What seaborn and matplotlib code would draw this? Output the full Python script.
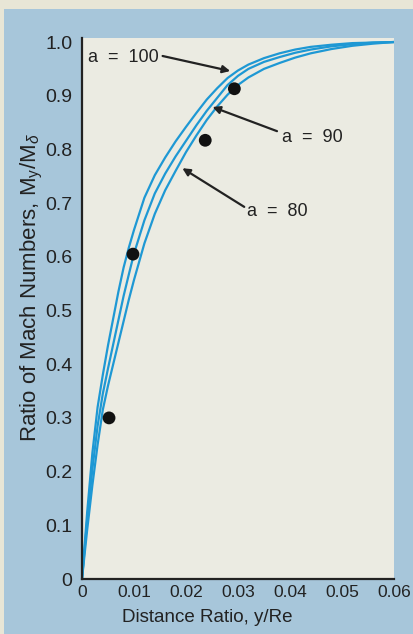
import matplotlib
matplotlib.use("Agg")
import matplotlib.pyplot as plt
from matplotlib.patches import Rectangle
import pandas as pd
import seaborn as sns

# Distance ratio y/Re at which each profile is sampled
dist_ratio = [0, 0.001, 0.002, 0.003, 0.004, 0.005, 0.006, 0.007, 0.008, 0.009, 0.010,
              0.012, 0.014, 0.016, 0.018, 0.020, 0.022, 0.024, 0.026, 0.028, 0.030,
              0.032, 0.035, 0.038, 0.041, 0.044, 0.048, 0.052, 0.056, 0.060]

# Mach-number ratio profiles for a = 100, 90, 80
mach_a100 = [0, 0.125, 0.235, 0.32, 0.38, 0.435, 0.485, 0.535, 0.58, 0.617, 0.65,
             0.71, 0.752, 0.785, 0.815, 0.842, 0.868, 0.893, 0.914, 0.933, 0.947,
             0.958, 0.970, 0.979, 0.986, 0.991, 0.995, 0.998, 0.999, 1.0]
mach_a90 = [0, 0.11, 0.205, 0.285, 0.345, 0.392, 0.437, 0.482, 0.527, 0.567, 0.606,
            0.668, 0.718, 0.755, 0.787, 0.816, 0.845, 0.872, 0.896, 0.920, 0.937,
            0.950, 0.963, 0.972, 0.980, 0.986, 0.992, 0.996, 0.999, 1.0]
mach_a80 = [0, 0.092, 0.175, 0.25, 0.315, 0.36, 0.40, 0.44, 0.48, 0.52, 0.557,
            0.625, 0.68, 0.724, 0.76, 0.795, 0.826, 0.855, 0.880, 0.902, 0.920,
            0.934, 0.950, 0.961, 0.971, 0.979, 0.987, 0.993, 0.997, 1.0]

# Measured points
meas_dist = [0.0052, 0.0098, 0.0237, 0.0293]
meas_mach = [0.30, 0.605, 0.817, 0.913]

x_ticks = [0, 0.01, 0.02, 0.03, 0.04, 0.05, 0.06]
x_tick_labels = ["0", "0.01", "0.02", "0.03", "0.04", "0.05", "0.06"]
y_ticks = [0, 0.1, 0.2, 0.3, 0.4, 0.5, 0.6, 0.7, 0.8, 0.9, 1.0]
y_tick_labels = ["0", "0.1", "0.2", "0.3", "0.4", "0.5", "0.6", "0.7", "0.8", "0.9", "1.0"]

profiles = pd.concat([
    pd.DataFrame({"dist": dist_ratio, "mach": mach_a100, "a": "100"}),
    pd.DataFrame({"dist": dist_ratio, "mach": mach_a90, "a": "90"}),
    pd.DataFrame({"dist": dist_ratio, "mach": mach_a80, "a": "80"}),
])
points = pd.DataFrame({"dist": meas_dist, "mach": meas_mach})

sns.set_style("white")
plt.rcParams["font.family"] = ["Liberation Sans", "DejaVu Sans"]
plt.rcParams["mathtext.fontset"] = "custom"
plt.rcParams["mathtext.rm"] = "Liberation Sans"
plt.rcParams["mathtext.it"] = "Liberation Sans:italic"

W, H = 414, 634
OUTER = "#E8E6D6"
PANEL = "#A7C6DA"
PLOT_BG = "#EBEBE2"
CURVE = "#1E98D4"
INK = "#222222"

fig = plt.figure(figsize=(W / 100, H / 100), dpi=100)
fig.patch.set_facecolor(OUTER)
fig.add_artist(Rectangle((4 / W, 0), 1, (H - 9) / H, transform=fig.transFigure,
                         facecolor=PANEL, edgecolor="none", zorder=0))

left_px, right_px, top_px, bottom_px = 82, 394, 38, 579
ax = fig.add_axes([left_px / W, (H - bottom_px) / H,
                   (right_px - left_px) / W, (bottom_px - top_px) / H])
ax.set_facecolor(PLOT_BG)

sns.lineplot(data=profiles, x="dist", y="mach", hue="a", units="a", estimator=None,
             palette={"100": CURVE, "90": CURVE, "80": CURVE}, linewidth=1.6,
             sort=False, legend=False, ax=ax)
sns.scatterplot(data=points, x="dist", y="mach", color="#111111", s=85,
                edgecolor="none", ax=ax, zorder=5)

ax.set_xlim(0, 0.06)
ax.set_ylim(0, 1.0075)
ax.set_xticks(x_ticks)
ax.set_xticklabels(x_tick_labels)
ax.set_yticks(y_ticks)
ax.set_yticklabels(y_tick_labels)
ax.tick_params(axis="both", direction="in", length=7, width=1.5, color=INK,
               labelcolor=INK)
ax.tick_params(axis="x", pad=4, labelsize=12.5)
ax.tick_params(axis="y", pad=7, labelsize=14)
ax.xaxis.get_major_ticks()[0].tick1line.set_visible(False)
ax.xaxis.get_major_ticks()[-1].tick1line.set_visible(False)
ax.yaxis.get_major_ticks()[0].tick1line.set_visible(False)
ax.yaxis.get_major_ticks()[-1].tick1line.set_visible(False)

for side in ("top", "right"):
    ax.spines[side].set_visible(False)
for side in ("left", "bottom"):
    ax.spines[side].set_color(INK)
    ax.spines[side].set_linewidth(1.6)

ax.set_xlabel("")
ax.set_ylabel("")
fig.text(207 / W, 1 - 617 / H, "Distance Ratio, y/Re", ha="center", va="center",
         fontsize=13.5, color=INK)
fig.text(32 / W, 1 - 288 / H, r"Ratio of Mach Numbers, M$_\mathregular{y}$/M$_\delta$",
         ha="center", va="center", rotation=90, fontsize=16, color=INK)

arrow = dict(arrowstyle="-|>", color=INK, lw=1.6, mutation_scale=11,
             shrinkA=0, shrinkB=0)
ax.annotate("", xy=(0.0285, 0.946), xytext=(0.0155, 0.974), arrowprops=arrow)
ax.text(0.0011, 0.972, "a  =  100", fontsize=13, color=INK, va="center", ha="left")
ax.annotate("", xy=(0.0251, 0.879), xytext=(0.0375, 0.834), arrowprops=arrow)
ax.text(0.0385, 0.823, "a  =  90", fontsize=13, color=INK, va="center", ha="left")
ax.annotate("", xy=(0.0193, 0.765), xytext=(0.0312, 0.693), arrowprops=arrow)
ax.text(0.0318, 0.685, "a  =  80", fontsize=13, color=INK, va="center", ha="left")

fig.savefig("out.png", dpi=100, facecolor=fig.get_facecolor())
